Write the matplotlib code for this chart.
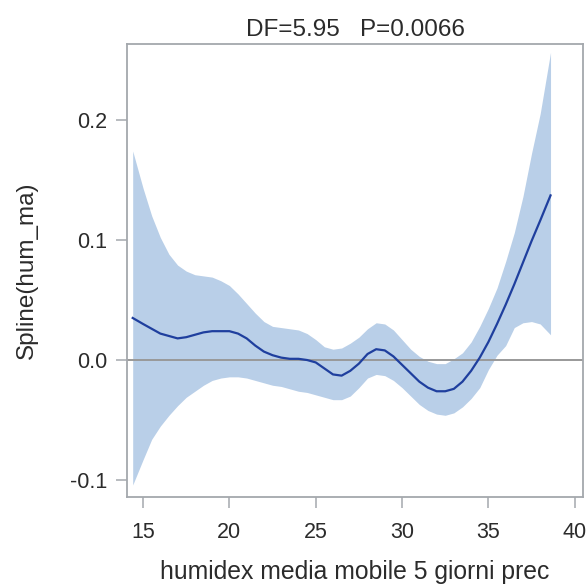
import matplotlib
matplotlib.use('Agg')
import numpy as np
import matplotlib.pyplot as plt

plt.rcParams['font.family'] = ['Liberation Sans', 'DejaVu Sans']

# humidex grid and fitted spline with its confidence band
hum = [14.4, 15.0, 15.5, 16.0, 16.5, 17.0, 17.5, 18.0, 18.5, 19.0, 19.5, 20.0,
       20.5, 21.0, 21.5, 22.0, 22.5, 23.0, 23.5, 24.0, 24.5, 25.0, 25.5, 26.0,
       26.5, 27.0, 27.5, 28.0, 28.5, 29.0, 29.5, 30.0, 30.5, 31.0, 31.5, 32.0,
       32.5, 33.0, 33.5, 34.0, 34.5, 35.0, 35.5, 36.0, 36.5, 37.0, 37.5, 38.0,
       38.6]
fit = [0.035, 0.030, 0.026, 0.022, 0.020, 0.018, 0.019, 0.021, 0.023, 0.024,
       0.024, 0.024, 0.022, 0.018, 0.012, 0.007, 0.004, 0.002, 0.001, 0.001,
       0.000, -0.002, -0.007, -0.012, -0.013, -0.009, -0.003, 0.005, 0.009,
       0.008, 0.003, -0.004, -0.011, -0.018, -0.023, -0.026, -0.026, -0.024,
       -0.018, -0.009, 0.002, 0.015, 0.030, 0.046, 0.063, 0.081, 0.099, 0.116,
       0.137]
upper = [0.174, 0.143, 0.120, 0.102, 0.088, 0.079, 0.074, 0.071, 0.070, 0.069,
         0.066, 0.062, 0.055, 0.047, 0.039, 0.032, 0.028, 0.027, 0.026, 0.025,
         0.022, 0.017, 0.011, 0.009, 0.010, 0.014, 0.019, 0.026, 0.031, 0.030,
         0.025, 0.017, 0.009, 0.003, -0.001, -0.003, -0.003, 0.001, 0.006,
         0.015, 0.028, 0.043, 0.060, 0.082, 0.106, 0.136, 0.172, 0.205, 0.256]
lower = [-0.104, -0.083, -0.066, -0.055, -0.046, -0.038, -0.031, -0.026,
         -0.021, -0.017, -0.015, -0.014, -0.014, -0.015, -0.017, -0.019,
         -0.021, -0.022, -0.024, -0.026, -0.027, -0.029, -0.031, -0.033,
         -0.033, -0.030, -0.023, -0.015, -0.012, -0.013, -0.017, -0.023,
         -0.030, -0.037, -0.042, -0.045, -0.046, -0.044, -0.039, -0.032,
         -0.023, -0.008, 0.004, 0.012, 0.027, 0.031, 0.032, 0.030, 0.021]

xticks = [15, 20, 25, 30, 35, 40]
yticks = [-0.1, 0.0, 0.1, 0.2]

frame = '#a4a8ad'
txt = '#2b2b2b'

fig = plt.figure(figsize=(5.87, 5.86), dpi=100)
ax = fig.add_axes([127/587, 1-497/586, (583-127)/587, (497-44)/586])

ax.fill_between(hum, lower, upper, color='#b9cfe8', linewidth=0, zorder=1)
ax.axhline(0, color='#999999', linewidth=1.4, zorder=2)
ax.plot(hum, fit, color='#1f3f9e', linewidth=1.6, zorder=3)

ax.set_xlim(14.07, 40.48)
ax.set_ylim(-0.114, 0.263)
ax.set_xticks(xticks)
ax.set_yticks(yticks)
ax.set_yticklabels(['%.1f' % v for v in yticks])

for s in ax.spines.values():
    s.set_color(frame)
    s.set_linewidth(1.3)
ax.tick_params(direction='out', length=8, width=1.1, color=frame,
               labelcolor=txt, labelsize=15.5, pad=6)
ax.tick_params(axis='x', pad=10)

ax.set_title('DF=5.95   P=0.0066', fontsize=17.5, color=txt, pad=5.5)
ax.set_xlabel('humidex media mobile 5 giorni prec', fontsize=17.8, color=txt,
              labelpad=12)
ax.set_ylabel('Spline(hum_ma)', fontsize=17.5, color=txt, labelpad=23)

fig.savefig('out.png', dpi=100, facecolor='white')
